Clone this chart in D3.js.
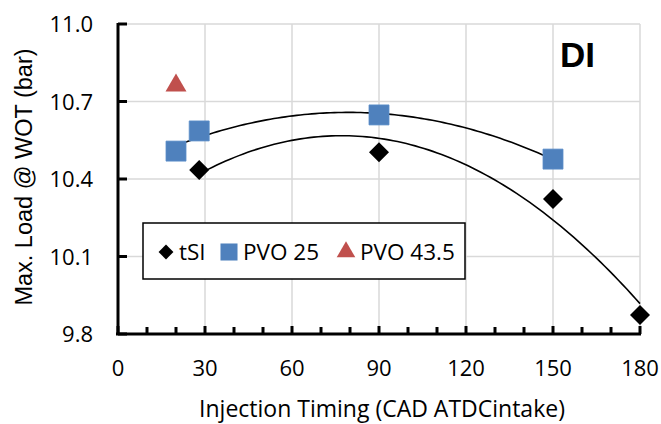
<!DOCTYPE html>
<html>
<head>
<meta charset="utf-8">
<script src="https://cdn.jsdelivr.net/npm/d3@7"></script>
<style>
  body { margin: 0; background: #fff; }
  text { font-family: "Open Sans", sans-serif; fill: #000; }
</style>
</head>
<body>
<div id="chart-area"></div>
<script>

// data
var tsiX = [28, 90, 150, 180];
var tsiY = [10.435, 10.504, 10.323, 9.874];

var pvo25X = [20, 28, 90, 150];
var pvo25Y = [10.508, 10.586, 10.648, 10.477];

var pvo435X = [20];
var pvo435Y = [10.762];

var xTicks = [0, 30, 60, 90, 120, 150, 180];
var yTicks = [9.8, 10.1, 10.4, 10.7, 11.0];
var legendNames = ["tSI", "PVO 25", "PVO 43.5"];

// Set up SVG
var W = 661, H = 424;
var margin = {top: 24, right: 21, bottom: 90, left: 118};
var width = W - margin.left - margin.right,
    height = H - margin.top - margin.bottom;

var svg = d3.select("#chart-area").append("svg")
    .attr("width", W)
    .attr("height", H);

var g = svg.append("g")
    .attr("transform", "translate(" + margin.left + "," + margin.top + ")");

var x = d3.scaleLinear().domain([0, 180]).range([0, width]);
var y = d3.scaleLinear().domain([9.8, 11.0]).range([height, 0]);

// gridlines
g.selectAll(".vgrid")
    .data(xTicks.slice(1))
    .enter().append("line")
    .attr("x1", function(d) { return x(d); })
    .attr("x2", function(d) { return x(d); })
    .attr("y1", 0).attr("y2", height)
    .attr("stroke", "#d9d9d9").attr("stroke-width", 1.5);

g.selectAll(".hgrid")
    .data(yTicks.slice(1))
    .enter().append("line")
    .attr("x1", 0).attr("x2", width)
    .attr("y1", function(d) { return y(d); })
    .attr("y2", function(d) { return y(d); })
    .attr("stroke", "#d9d9d9").attr("stroke-width", 1.5);

// quadratic least squares (Excel poly trendline, order 2)
function polyFit(xs, ys) {
    var n = xs.length, s = [0, 0, 0, 0, 0], t = [0, 0, 0];
    for (var i = 0; i < n; i++) {
        for (var k = 0; k < 5; k++) s[k] += Math.pow(xs[i], k);
        for (var k2 = 0; k2 < 3; k2++) t[k2] += ys[i] * Math.pow(xs[i], k2);
    }
    var A = [[s[0], s[1], s[2], t[0]], [s[1], s[2], s[3], t[1]], [s[2], s[3], s[4], t[2]]];
    for (var c = 0; c < 3; c++) {
        for (var r = c + 1; r < 3; r++) {
            var f = A[r][c] / A[c][c];
            for (var j = c; j < 4; j++) A[r][j] -= f * A[c][j];
        }
    }
    var b = [0, 0, 0];
    for (var r2 = 2; r2 >= 0; r2--) {
        var v = A[r2][3];
        for (var j2 = r2 + 1; j2 < 3; j2++) v -= A[r2][j2] * b[j2];
        b[r2] = v / A[r2][r2];
    }
    return function(xv) { return b[0] + b[1] * xv + b[2] * xv * xv; };
}

function trend(xs, ys) {
    var fn = polyFit(xs, ys);
    var lo = d3.min(xs), hi = d3.max(xs);
    var pts = d3.range(0, 101).map(function(i) { return lo + (hi - lo) * i / 100; });
    g.append("path")
        .datum(pts)
        .attr("fill", "none")
        .attr("stroke", "#000")
        .attr("stroke-width", 1.6)
        .attr("d", d3.line()
            .x(function(d) { return x(d); })
            .y(function(d) { return y(fn(d)); }));
}
trend(tsiX, tsiY);
trend(pvo25X, pvo25Y);

// axes
var xAxis = g.append("g").attr("transform", "translate(0," + height + ")");
xAxis.append("line")
    .attr("x1", -2).attr("x2", width + 1)
    .attr("stroke", "#000").attr("stroke-width", 3);
xAxis.selectAll(".xt")
    .data(d3.range(0, 181, 10))
    .enter().append("line")
    .attr("x1", function(d) { return x(d); })
    .attr("x2", function(d) { return x(d); })
    .attr("y1", 0)
    .attr("y2", function(d) { return d % 30 === 0 ? -8 : -7; })
    .attr("stroke", "#000").attr("stroke-width", 3);
xAxis.selectAll(".xl")
    .data(xTicks)
    .enter().append("text")
    .attr("x", function(d) { return x(d); })
    .attr("y", 42)
    .attr("text-anchor", "middle")
    .style("font-size", "22px")
    .text(function(d) { return d; });

var yAxis = g.append("g");
yAxis.append("line")
    .attr("y1", -1).attr("y2", height + 1)
    .attr("stroke", "#000").attr("stroke-width", 3);
yAxis.selectAll(".yt")
    .data(yTicks)
    .enter().append("line")
    .attr("x1", 0).attr("x2", 9)
    .attr("y1", function(d) { return y(d); })
    .attr("y2", function(d) { return y(d); })
    .attr("stroke", "#000").attr("stroke-width", 3);
yAxis.selectAll(".yl")
    .data(yTicks)
    .enter().append("text")
    .attr("x", -25)
    .attr("y", function(d) { return y(d) + 8; })
    .attr("text-anchor", "end")
    .style("font-size", "22px")
    .text(function(d) { return d3.format(".1f")(d); });

// axis titles
svg.append("text")
    .attr("x", 382)
    .attr("y", 417)
    .attr("text-anchor", "middle")
    .style("font-size", "23px")
    .text("Injection Timing (CAD ATDCintake)");

svg.append("text")
    .attr("transform", "translate(32,177) rotate(-90)")
    .attr("text-anchor", "middle")
    .style("font-family", "'Liberation Sans', Arial, sans-serif")
    .style("font-size", "23.5px")
    .text("Max. Load @ WOT (bar)");

svg.append("text")
    .attr("x", 560)
    .attr("y", 67)
    .style("font-family", "'Liberation Sans', Arial, sans-serif")
    .style("font-weight", "bold")
    .style("font-size", "35px")
    .text("DI");

// markers
function pts(xs, ys) {
    return xs.map(function(v, i) { return [v, ys[i]]; });
}

g.selectAll(".tsi")
    .data(pts(tsiX, tsiY))
    .enter().append("path")
    .attr("d", d3.symbol().type(d3.symbolSquare).size(200))
    .attr("fill", "#000")
    .attr("transform", function(d) { return "translate(" + x(d[0]) + "," + y(d[1]) + ") rotate(45)"; });

g.selectAll(".pvo25")
    .data(pts(pvo25X, pvo25Y))
    .enter().append("path")
    .attr("d", d3.symbol().type(d3.symbolSquare).size(400))
    .attr("fill", "#4f81bd")
    .attr("stroke", "#5b8ec9").attr("stroke-width", 0.8)
    .attr("transform", function(d) { return "translate(" + x(d[0]) + "," + y(d[1]) + ")"; });

g.selectAll(".pvo435")
    .data(pts(pvo435X, pvo435Y))
    .enter().append("path")
    .attr("d", d3.symbol().type(d3.symbolTriangle).size(190))
    .attr("fill", "#c0504d")
    .attr("transform", function(d) { return "translate(" + x(d[0]) + "," + y(d[1]) + ")"; });

// legend
var leg = svg.append("g");
leg.append("rect")
    .attr("x", 143).attr("y", 223)
    .attr("width", 322).attr("height", 56)
    .attr("fill", "#fff").attr("stroke", "#000").attr("stroke-width", 1.5);

var legItems = [
    {name: legendNames[0], type: d3.symbolSquare, size: 110, rot: 45, color: "#000", mx: 166, tx: 179},
    {name: legendNames[1], type: d3.symbolSquare, size: 290, rot: 0, color: "#4f81bd", mx: 229, tx: 243},
    {name: legendNames[2], type: d3.symbolTriangle, size: 150, rot: 0, color: "#c0504d", mx: 346, tx: 360}
];

leg.selectAll(".lm")
    .data(legItems)
    .enter().append("path")
    .attr("d", function(d) { return d3.symbol().type(d.type).size(d.size)(); })
    .attr("fill", function(d) { return d.color; })
    .attr("transform", function(d) { return "translate(" + d.mx + ",252) rotate(" + d.rot + ")"; });

leg.selectAll(".lt")
    .data(legItems)
    .enter().append("text")
    .attr("x", function(d) { return d.tx; })
    .attr("y", 260)
    .style("font-size", "22.5px")
    .text(function(d) { return d.name; });

</script>
</body>
</html>
